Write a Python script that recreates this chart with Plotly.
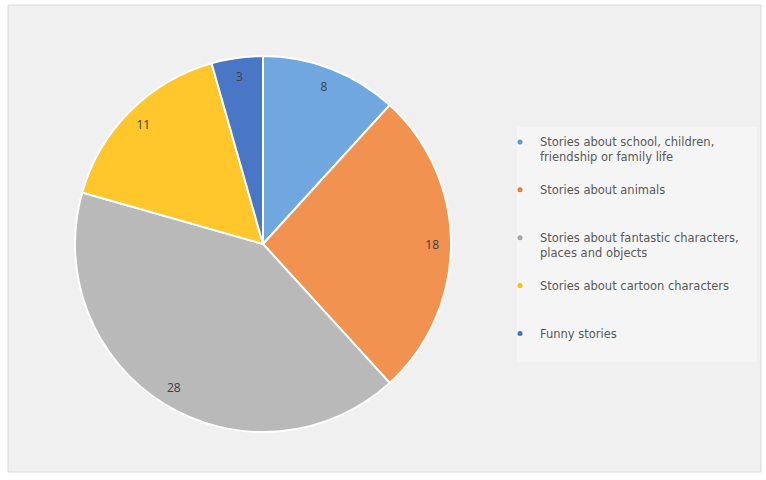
import plotly.graph_objects as go

categories = [
    "Stories about school, children,<br>friendship or family life",
    "Stories about animals",
    "Stories about fantastic characters,<br>places and objects",
    "Stories about cartoon characters",
    "Funny stories",
]
values = [8, 18, 28, 11, 3]
colors = ["#6fa7de", "#f19250", "#b9b9b9", "#ffc72c", "#4a76c6"]
legend_colors = ["#5b9bd5", "#ed7d31", "#a5a5a5", "#ffc000", "#4472c4"]

W, H = 766, 480
cx, cy, r = 263, 244, 188
dom_x = [(cx - r) / W, (cx + r) / W]
dom_y = [(H - cy - r) / H, (H - cy + r) / H]

fig = go.Figure()
fig.add_trace(go.Pie(
    values=values, labels=[c.replace("<br>", " ") for c in categories],
    sort=False, direction="clockwise", rotation=0,
    marker=dict(colors=colors, line=dict(color="white", width=2)),
    textinfo="none", showlegend=False, domain=dict(x=dom_x, y=dom_y),
    hoverinfo="label+value",
))
fig.add_trace(go.Pie(
    values=values, labels=[c.replace("<br>", " ") + " " for c in categories],
    text=[str(v) for v in values], textinfo="text",
    sort=False, direction="clockwise", rotation=0, hole=0.8,
    marker=dict(colors=["rgba(0,0,0,0)"] * 5, line=dict(width=0)),
    textposition="inside", insidetextorientation="horizontal",
    textfont=dict(family="Open Sans", size=12, color="#404040"),
    showlegend=False, domain=dict(x=dom_x, y=dom_y), hoverinfo="skip",
))

pad = ["<br> ", "<br> <br> ", "<br> ", "<br> <br> ", "<br> <br> "]
for cat, col, p in zip(categories, legend_colors, pad):
    fig.add_trace(go.Scatter(
        x=[None], y=[None], mode="markers", name=cat + p,
        marker=dict(color=col, size=5, symbol="circle"),
    ))

fig.update_layout(
    width=W, height=H,
    margin=dict(l=0, r=0, t=0, b=0),
    paper_bgcolor="white", plot_bgcolor="rgba(0,0,0,0)",
    xaxis=dict(visible=False), yaxis=dict(visible=False),
    font=dict(family="Open Sans", size=12, color="#595959"),
    legend=dict(
        x=500 / W, y=1 - 128 / H, xanchor="left", yanchor="top",
        bgcolor="rgba(0,0,0,0)", valign="top", itemwidth=30,
        font=dict(family="DejaVu Sans", size=11.5, color="#595959"),
        tracegroupgap=0,
    ),
    shapes=[
        dict(type="rect", xref="paper", yref="paper", layer="below",
             x0=8 / W, x1=761 / W, y0=1 - 472 / H, y1=1 - 5 / H,
             fillcolor="#f0f0f0", line=dict(color="#d9d9d9", width=1)),
        dict(type="rect", xref="paper", yref="paper", layer="below",
             x0=517 / W, x1=757 / W, y0=1 - 362 / H, y1=1 - 127 / H,
             fillcolor="#f5f5f5", line=dict(width=0)),
    ],
)

fig.write_html("out.html")
